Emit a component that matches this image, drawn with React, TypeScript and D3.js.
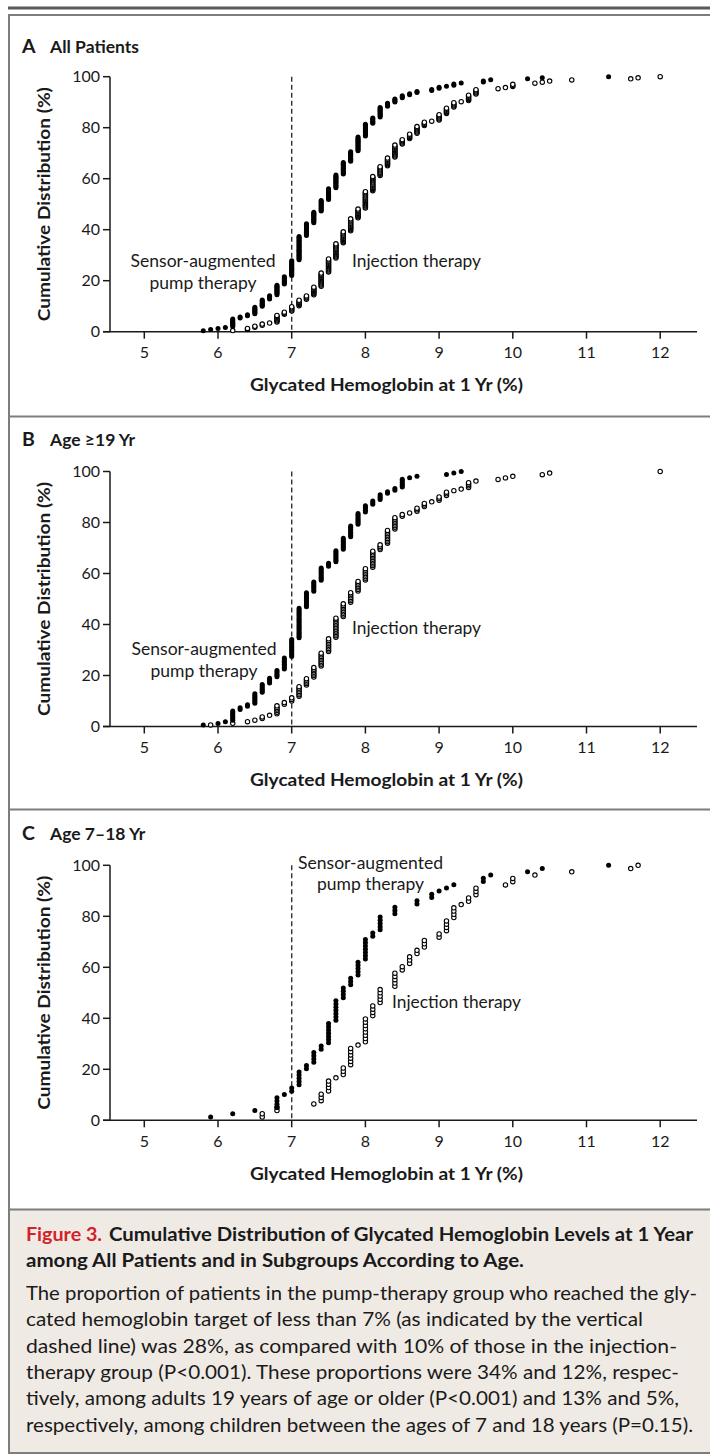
import React from 'react';
import * as d3 from 'd3';

// ---------- data (HbA1c value at 1 yr, number of patients at that value) ----------
const xTicks = [5, 6, 7, 8, 9, 10, 11, 12];
const yTicks = [0, 20, 40, 60, 80, 100];
const targetHbA1c = 7;

// Panel A: all patients
const pumpAllX = [5.8, 5.9, 6.0, 6.1, 6.2, 6.3, 6.4, 6.5, 6.6, 6.7, 6.8, 6.9, 7.0, 7.1, 7.2, 7.3, 7.4, 7.5, 7.6, 7.7, 7.8, 7.9, 8.0, 8.1, 8.2, 8.3, 8.4, 8.5, 8.6, 8.7, 8.9, 9.0, 9.1, 9.2, 9.3, 9.6, 9.7, 10.2, 10.4, 11.3];
const pumpAllN = [1, 1, 1, 1, 8, 2, 2, 7, 7, 4, 10, 8, 15, 23, 12, 11, 11, 11, 13, 12, 10, 14, 12, 6, 10, 4, 4, 3, 2, 2, 2, 2, 1, 2, 1, 2, 1, 1, 1, 1];
const injAllX = [6.2, 6.4, 6.5, 6.6, 6.7, 6.8, 6.9, 7.0, 7.1, 7.2, 7.3, 7.4, 7.5, 7.6, 7.7, 7.8, 7.9, 8.0, 8.1, 8.2, 8.3, 8.4, 8.5, 8.6, 8.7, 8.8, 8.9, 9.0, 9.1, 9.2, 9.3, 9.4, 9.5, 9.8, 9.9, 10.0, 10.3, 10.4, 10.5, 10.8, 11.6, 11.7, 12.0];
const injAllN = [1, 2, 2, 2, 1, 7, 3, 5, 6, 4, 8, 13, 13, 14, 11, 12, 9, 16, 14, 9, 8, 12, 5, 5, 7, 4, 1, 6, 6, 5, 1, 6, 5, 1, 1, 3, 1, 1, 1, 1, 1, 1, 1];

// Panel B: age >=19 yr
const pumpAdultX = [5.8, 6.0, 6.1, 6.2, 6.3, 6.4, 6.5, 6.6, 6.7, 6.8, 6.9, 7.0, 7.1, 7.2, 7.3, 7.4, 7.5, 7.6, 7.7, 7.8, 7.9, 8.0, 8.1, 8.2, 8.3, 8.4, 8.5, 8.6, 8.7, 9.1, 9.2, 9.3];
const pumpAdultN = [1, 1, 1, 7, 2, 2, 7, 6, 4, 5, 8, 12, 20, 10, 7, 9, 3, 8, 8, 8, 8, 5, 3, 4, 2, 2, 6, 1, 1, 1, 1, 1];
const injAdultX = [5.9, 6.2, 6.4, 6.5, 6.6, 6.7, 6.8, 6.9, 7.0, 7.1, 7.2, 7.3, 7.4, 7.5, 7.6, 7.7, 7.8, 7.9, 8.0, 8.1, 8.2, 8.3, 8.4, 8.5, 8.6, 8.7, 8.8, 8.9, 9.0, 9.1, 9.2, 9.3, 9.4, 9.5, 9.8, 9.9, 10.0, 10.4, 10.5, 12.0];
const injAdultN = [1, 1, 1, 1, 2, 1, 6, 2, 3, 7, 5, 7, 9, 9, 13, 9, 7, 7, 8, 11, 4, 9, 8, 2, 1, 3, 3, 1, 3, 3, 1, 1, 4, 1, 1, 1, 1, 1, 1, 1];

// Panel C: age 7-18 yr
const pumpChildX = [5.9, 6.2, 6.5, 6.8, 6.9, 7.0, 7.1, 7.2, 7.3, 7.4, 7.5, 7.6, 7.7, 7.8, 7.9, 8.0, 8.1, 8.2, 8.4, 8.7, 8.9, 9.0, 9.1, 9.2, 9.6, 9.7, 10.2, 10.4, 11.3];
const pumpChildN = [1, 1, 1, 4, 1, 2, 5, 2, 4, 2, 7, 7, 4, 3, 5, 7, 2, 5, 3, 2, 2, 1, 1, 1, 2, 1, 1, 1, 1];
const injChildX = [6.6, 6.8, 7.3, 7.4, 7.5, 7.6, 7.7, 7.8, 7.9, 8.0, 8.1, 8.2, 8.4, 8.5, 8.6, 8.7, 8.8, 9.0, 9.1, 9.2, 9.3, 9.4, 9.5, 9.9, 10.0, 10.3, 10.8, 11.6, 11.7];
const injChildN = [2, 2, 1, 3, 4, 1, 3, 6, 1, 8, 4, 5, 5, 2, 3, 2, 3, 2, 4, 4, 1, 2, 3, 1, 2, 1, 1, 1, 1];

const panelLetters = ['A', 'B', 'C'];
const panelTitles = ['All Patients', 'Age \u226519 Yr', 'Age 7\u201318 Yr'];
const pumpLabelLines = ['Sensor-augmented', 'pump therapy'];
const injLabelText = 'Injection therapy';
const xAxisTitle = 'Glycated Hemoglobin at 1 Yr (%)';
const yAxisTitle = 'Cumulative Distribution (%)';

const captionFig = 'Figure 3.';
const captionTitle1 = 'Cumulative Distribution of Glycated Hemoglobin Levels at 1 Year';
const captionTitle2 = 'among All Patients and in Subgroups According to Age.';
const captionBody = [
  'The proportion of patients in the pump-therapy group who reached the gly-',
  'cated hemoglobin target of less than 7% (as indicated by the vertical',
  'dashed line) was 28%, as compared with 10% of those in the injection-',
  'therapy group (P<0.001). These proportions were 34% and 12%, respec-',
  'tively, among adults 19 years of age or older (P<0.001) and 13% and 5%,',
  'respectively, among children between the ages of 7 and 18 years (P=0.15).',
];

// ---------- layout ----------
const W = 710;
const H = 1455;
const FONT = "Lato, 'Open Sans', sans-serif";
const INK = '#1a1a1a';
const FRAME = '#7d7d7d';

const panels = [
  {
    pumpX: pumpAllX, pumpN: pumpAllN, injX: injAllX, injN: injAllN,
    zeroY: 331.7, titleY: 52.7,
    pump: { x: 203, y1: 267, y2: 289 }, inj: { x: 352, y: 267 },
  },
  {
    pumpX: pumpAdultX, pumpN: pumpAdultN, injX: injAdultX, injN: injAdultN,
    zeroY: 726.5, titleY: 445.7,
    pump: { x: 204, y1: 655, y2: 677 }, inj: { x: 352, y: 634 },
  },
  {
    pumpX: pumpChildX, pumpN: pumpChildN, injX: injChildX, injN: injChildN,
    zeroY: 1120.3, titleY: 839.5,
    pump: { x: 370.5, y1: 869, y2: 890 }, inj: { x: 392, y: 1008 },
  },
];
const separators = [416.5, 809.5, 1209.5];

const xScale = d3.scaleLinear().domain([5, 12]).range([144.3, 660.2]);
const Y_AXIS_X = 110;
const X_AXIS_START = 103;
const X_AXIS_END = 697;
const PLOT_H = 255;

function cdfPoints(xs: number[], ns: number[]) {
  const total = d3.sum(ns);
  const pts: { x: number; p: number }[] = [];
  let k = 0;
  xs.forEach((x, i) => {
    for (let j = 0; j < ns[i]; j++) {
      k += 1;
      pts.push({ x, p: (k / total) * 100 });
    }
  });
  return pts;
}

function Panel({ cfg, idx }: { cfg: any; idx: number }) {
  const y = d3.scaleLinear().domain([0, 100]).range([cfg.zeroY, cfg.zeroY - PLOT_H]);
  const pumpPts = cdfPoints(cfg.pumpX, cfg.pumpN);
  const injPts = cdfPoints(cfg.injX, cfg.injN);
  const midY = (y(0) + y(100)) / 2;
  return (
    <g>
      {/* panel title */}
      <text x={22} y={cfg.titleY} fontFamily={FONT} fontWeight={700} fontSize={19.5} fill={INK}>
        {panelLetters[idx]}
      </text>
      <text x={50} y={cfg.titleY} fontFamily={FONT} fontWeight={700} fontSize={17.5} fill={INK}>
        {panelTitles[idx]}
      </text>

      {/* y axis */}
      <line x1={Y_AXIS_X} x2={Y_AXIS_X} y1={y(100)} y2={y(0)} stroke={INK} strokeWidth={1.5} />
      {yTicks.map((t) => (
        <g key={'yt' + t}>
          <line x1={X_AXIS_START} x2={Y_AXIS_X} y1={y(t)} y2={y(t)} stroke={INK} strokeWidth={1.5} />
          <text x={100} y={y(t)} dy="0.35em" textAnchor="end" fontFamily={FONT} fontSize={16} fill={INK}>
            {t}
          </text>
        </g>
      ))}
      <text
        transform={`translate(50,${midY}) rotate(-90)`}
        textAnchor="middle"
        fontFamily={FONT}
        fontWeight={700}
        fontSize={17}
        fill={INK}
        textLength={234}
        lengthAdjust="spacingAndGlyphs"
      >
        {yAxisTitle}
      </text>

      {/* x axis */}
      <line x1={X_AXIS_START} x2={X_AXIS_END} y1={y(0)} y2={y(0)} stroke={INK} strokeWidth={1.5} />
      {xTicks.map((t) => (
        <g key={'xt' + t}>
          <line x1={xScale(t)} x2={xScale(t)} y1={y(0)} y2={y(0) + 7} stroke={INK} strokeWidth={1.5} />
          <text x={xScale(t)} y={y(0) + 26.7} textAnchor="middle" fontFamily={FONT} fontSize={16} fill={INK}>
            {t}
          </text>
        </g>
      ))}
      <text
        x={386.5}
        y={y(0) + 59.5}
        textAnchor="middle"
        fontFamily={FONT}
        fontWeight={700}
        fontSize={16.5}
        fill={INK}
        textLength={273}
        lengthAdjust="spacingAndGlyphs"
      >
        {xAxisTitle}
      </text>

      {/* 7% target line */}
      <line
        x1={xScale(targetHbA1c)}
        x2={xScale(targetHbA1c)}
        y1={y(100)}
        y2={y(0)}
        stroke="#333"
        strokeWidth={1.4}
        strokeDasharray="5,3"
      />

      {/* injection therapy: open circles */}
      {injPts.map((d, i) => (
        <circle key={'i' + i} cx={xScale(d.x)} cy={y(d.p)} r={2.2} fill="#fff" stroke="#000" strokeWidth={1.1} />
      ))}
      {/* sensor-augmented pump: filled circles */}
      {pumpPts.map((d, i) => (
        <circle key={'p' + i} cx={xScale(d.x)} cy={y(d.p)} r={2.5} fill="#000" />
      ))}

      {/* labels */}
      <text x={cfg.pump.x} y={cfg.pump.y1} textAnchor="middle" fontFamily={FONT} fontSize={17} fill={INK} textLength={145} lengthAdjust="spacingAndGlyphs">
        {pumpLabelLines[0]}
      </text>
      <text x={cfg.pump.x} y={cfg.pump.y2} textAnchor="middle" fontFamily={FONT} fontSize={17} fill={INK} textLength={107} lengthAdjust="spacingAndGlyphs">
        {pumpLabelLines[1]}
      </text>
      <text x={cfg.inj.x} y={cfg.inj.y} fontFamily={FONT} fontSize={17} fill={INK} textLength={129} lengthAdjust="spacingAndGlyphs">
        {injLabelText}
      </text>
    </g>
  );
}

const bodyEnds = [697, 643, 677, 679, 679, 693];

export default function App() {
  return (
    <svg
      width={W}
      height={H}
      viewBox={`0 0 ${W} ${H}`}
      style={{ position: 'absolute', left: 0, top: 0, background: '#fff' }}
    >
      <rect x={0} y={0} width={W} height={H} fill="#fff" />
      {/* top rule */}
      <line x1={8} x2={W} y1={8} y2={8} stroke="#5a5a5a" strokeWidth={3} />

      {/* caption background */}
      <rect x={9} y={separators[2]} width={W - 9} height={1453 - separators[2]} fill="#f0eae5" />

      {/* frame */}
      <line x1={9} x2={W} y1={15} y2={15} stroke={FRAME} strokeWidth={2} />
      <line x1={9} x2={9} y1={14} y2={1454} stroke={FRAME} strokeWidth={2} />
      <line x1={8} x2={W} y1={1453} y2={1453} stroke={FRAME} strokeWidth={2} />
      {separators.map((s) => (
        <line key={'s' + s} x1={9} x2={W} y1={s} y2={s} stroke={FRAME} strokeWidth={2} />
      ))}

      {panels.map((cfg, i) => (
        <Panel key={i} cfg={cfg} idx={i} />
      ))}

      {/* caption */}
      <text x={26} y={1240.7} fontFamily={FONT} fontWeight={700} fontSize={18.5} fill="#d2232a" textLength={76} lengthAdjust="spacingAndGlyphs">
        {captionFig}
      </text>
      <text x={109} y={1240.7} fontFamily={FONT} fontWeight={700} fontSize={18.5} fill={INK} textLength={584} lengthAdjust="spacingAndGlyphs">
        {captionTitle1}
      </text>
      <text x={26} y={1266.7} fontFamily={FONT} fontWeight={700} fontSize={18.5} fill={INK} textLength={498} lengthAdjust="spacingAndGlyphs">
        {captionTitle2}
      </text>
      {captionBody.map((line, i) => (
        <text
          key={'c' + i}
          x={26}
          y={1300 + i * 26.3}
          fontFamily={FONT}
          fontSize={19}
          fill={INK}
          textLength={bodyEnds[i] - 26}
          lengthAdjust="spacingAndGlyphs"
        >
          {line}
        </text>
      ))}
    </svg>
  );
}
